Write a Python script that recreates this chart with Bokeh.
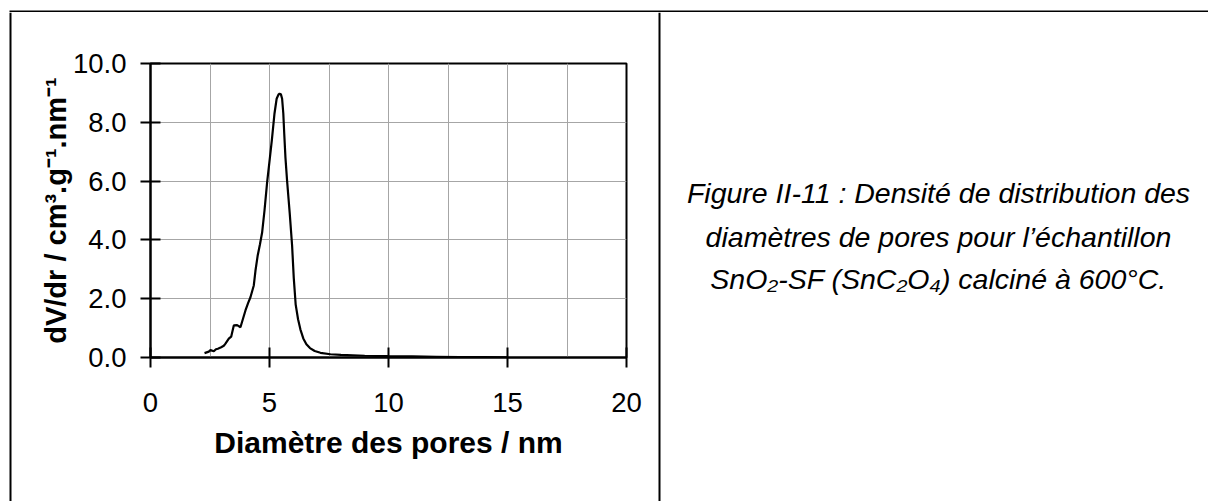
from bokeh.plotting import figure
from bokeh.layouts import column, row
from bokeh.models import Range1d, FixedTicker, PrintfTickFormatter
from bokeh.core.properties import value
from bokeh.embed import file_html
from bokeh.resources import INLINE

# ---------------- data ----------------
diameter_nm = [2.27, 2.45, 2.52, 2.66, 2.75, 2.83, 2.97, 3.08, 3.15, 3.29, 3.39, 3.50,
               3.64, 3.78, 3.88, 3.99, 4.10, 4.20, 4.34, 4.41, 4.50, 4.60, 4.69, 4.79,
               4.90, 5.01, 5.10, 5.21, 5.30, 5.38, 5.42, 5.48, 5.53, 5.58, 5.62, 5.67,
               5.74, 5.80, 5.85, 5.95, 6.02, 6.10, 6.20, 6.30, 6.42, 6.55, 6.70, 6.90,
               7.14, 7.56, 8.0, 8.5, 9.0, 10.0, 11.0, 12.0, 13.0, 14.0, 15.0]
dvdr = [0.15, 0.20, 0.25, 0.21, 0.28, 0.30, 0.35, 0.40, 0.47, 0.64, 0.71, 1.09,
        1.10, 1.03, 1.30, 1.60, 1.85, 2.05, 2.45, 2.95, 3.45, 3.85, 4.25, 5.00,
        5.96, 6.75, 7.40, 8.30, 8.80, 8.95, 8.97, 8.95, 8.80, 8.30, 7.60, 6.80,
        6.00, 5.40, 4.90, 3.80, 2.70, 1.80, 1.30, 0.95, 0.65, 0.45, 0.32, 0.22,
        0.16, 0.11, 0.09, 0.075, 0.06, 0.045, 0.035, 0.025, 0.015, 0.01, 0.005]

x_ticks = [0, 5, 10, 15, 20]
y_ticks = [0, 2, 4, 6, 8, 10]
x_grid = [2.5, 5, 7.5, 10, 12.5, 15, 17.5]
y_grid = [2, 4, 6, 8]

x_title = "Diamètre des pores / nm"
y_title = "dV/dr / cm³.g⁻¹.nm⁻¹"
caption_lines = [
    "Figure II-11 : Densité de distribution des",
    "diamètres de pores pour l’échantillon",
    "SnO₂-SF (SnC₂O₄) calciné à 600°C.",
]

FONT = "Liberation Sans"
TOTAL_W, TOTAL_H = 1208, 501
TOP_H = 12          # strip holding the table's top rule
LEFT_W = 12         # strip holding the table's left rule
CHART_W = 645       # chart cell
RIGHT_W = TOTAL_W - LEFT_W - CHART_W
ROW_H = TOTAL_H - TOP_H


def strip(w, h):
    """Axis-less figure whose frame is its whole canvas (pixel coordinates, y down)."""
    f = figure(width=w, height=h, x_range=Range1d(0, w), y_range=Range1d(h, 0),
               output_backend="svg", toolbar_location=None,
               x_axis_location=None, y_axis_location=None, min_border=0)
    f.min_border_left = f.min_border_right = f.min_border_top = f.min_border_bottom = 0
    f.frame_align = False
    f.outline_line_color = None
    f.grid.visible = False
    f.background_fill_color = "white"
    f.border_fill_color = "white"
    return f


# ---------- table rules ----------
top = strip(TOTAL_W, TOP_H)
top.line([9, TOTAL_W], [11, 11], line_color="black", line_width=2.2)

left = strip(LEFT_W, ROW_H)
left.line([10, 10], [0, ROW_H], line_color="black", line_width=2)

right = strip(RIGHT_W, ROW_H)
right.line([2, 2], [0, ROW_H], line_color="black", line_width=2)
right.text(x=[281, 281, 281], y=[180, 224, 266], text=caption_lines,
           text_font=value(FONT), text_font_style="italic", text_font_size="28.5px",
           text_align="center", text_baseline="alphabetic", text_color="black")

# ---------- chart ----------
p = figure(width=CHART_W, height=ROW_H, x_range=Range1d(0, 20), y_range=Range1d(0, 10),
           output_backend="svg", toolbar_location=None)
p.frame_align = False
p.min_border_left = 138
p.min_border_right = 31
p.min_border_top = 51
p.min_border_bottom = 144
p.background_fill_color = "white"
p.border_fill_color = "white"
p.outline_line_color = "black"
p.outline_line_width = 2

p.line(diameter_nm, dvdr, line_color="black", line_width=2.2)

p.xaxis.ticker = FixedTicker(ticks=x_ticks)
p.yaxis.ticker = FixedTicker(ticks=y_ticks)
p.yaxis.formatter = PrintfTickFormatter(format="%.1f")
for ax in (p.xaxis[0], p.yaxis[0]):
    ax.axis_line_color = "black"
    ax.axis_line_width = 2
    ax.major_tick_line_color = "black"
    ax.major_tick_line_width = 2
    ax.major_tick_in = 10
    ax.major_tick_out = 10
    ax.minor_tick_line_color = None
    ax.major_label_text_font = FONT
    ax.major_label_text_font_size = "27.5px"
    ax.major_label_text_color = "black"
    ax.axis_label_text_font = FONT
    ax.axis_label_text_font_style = "bold"
    ax.axis_label_text_color = "black"
p.xaxis.axis_label = x_title
p.yaxis.axis_label = y_title
p.xaxis.axis_label_text_font_size = "30px"
p.yaxis.axis_label_text_font_size = "29px"
p.xaxis.major_label_standoff = 25
p.yaxis.major_label_standoff = 14
p.xaxis.axis_label_standoff = 11
p.yaxis.axis_label_standoff = -2

p.xgrid.ticker = FixedTicker(ticks=x_grid)
p.ygrid.ticker = FixedTicker(ticks=y_grid)
for g in (p.xgrid[0], p.ygrid[0]):
    g.grid_line_color = "#a6a6a6"
    g.grid_line_width = 1

layout = column(top, row(left, p, right))
open("out.html", "w").write(file_html(layout, INLINE))
